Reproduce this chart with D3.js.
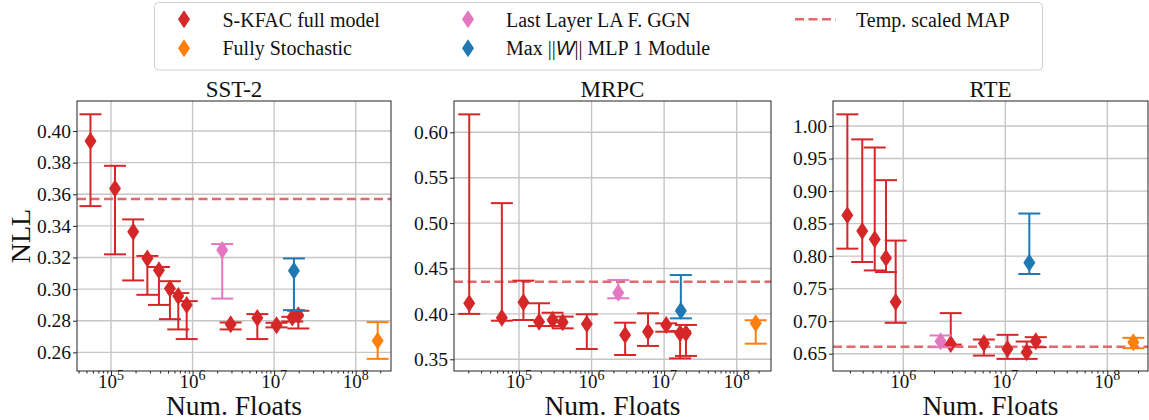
<!DOCTYPE html>
<html>
<head>
<meta charset="utf-8">
<script src="https://cdn.jsdelivr.net/npm/d3@7"></script>
<style>
  body { margin: 0; background: #fff; }
  svg { display: block; }
  svg text { font-family: "Liberation Serif", "DejaVu Serif", serif; }
  svg text tspan.sym { font-family: "Liberation Sans", sans-serif; font-style: italic; }
</style>
</head>
<body>
<div id="main"></div>
<script>
// data: [numFloats, nll, errLow, errHigh]
let titles = ["SST-2", "MRPC", "RTE"]

let sstKfac = [
  [5.6e4, 0.3937, 0.3525, 0.4106], [1.12e5, 0.3637, 0.322, 0.378], [1.87e5, 0.3363, 0.3055, 0.3441],
  [2.79e5, 0.3194, 0.2964, 0.321], [3.87e5, 0.312, 0.290, 0.314], [5.28e5, 0.3004, 0.281, 0.305],
  [6.68e5, 0.2956, 0.2745, 0.2975], [8.47e5, 0.290, 0.2684, 0.2924], [2.93e6, 0.2777, 0.2745, 0.2789],
  [6.22e6, 0.2818, 0.2684, 0.2842], [1.07e7, 0.2772, 0.2758, 0.2787], [1.67e7, 0.282, 0.2795, 0.2825],
  [1.98e7, 0.2835, 0.2751, 0.2863]
]
let sstLastLayer = [[2.31e6, 0.3247, 0.294, 0.3285]]
let sstMaxW = [[1.75e7, 0.3116, 0.2867, 0.3194]]
let sstStoch = [[1.86e8, 0.2673, 0.2559, 0.2791]]

let mrpcKfac = [
  [2.06e4, 0.4117, 0.400, 0.6198], [5.8e4, 0.3958, 0.3925, 0.522], [1.15e5, 0.4128, 0.3933, 0.4366],
  [1.89e5, 0.3914, 0.3867, 0.4117], [2.9e5, 0.3933, 0.3867, 0.4013], [4.0e5, 0.3907, 0.3841, 0.397],
  [8.6e5, 0.3889, 0.3613, 0.3996], [2.9e6, 0.3768, 0.3547, 0.3903], [6.0e6, 0.3804, 0.3647, 0.4007],
  [1.07e7, 0.3878, 0.3804, 0.3896], [1.66e7, 0.3786, 0.351, 0.381], [2.0e7, 0.3786, 0.3537, 0.3878]
]
let mrpcLastLayer = [[2.33e6, 0.4233, 0.4172, 0.4373]]
let mrpcMaxW = [[1.7e7, 0.4035, 0.3951, 0.4428]]
let mrpcStoch = [[1.83e8, 0.3896, 0.3672, 0.393]]

let rteKfac = [
  [2.83e5, 0.8629, 0.8115, 1.018], [3.96e5, 0.8387, 0.791, 0.9795], [5.25e5, 0.8259, 0.778, 0.967],
  [6.77e5, 0.797, 0.7755, 0.9168], [8.42e5, 0.7293, 0.6975, 0.8239], [2.92e6, 0.6651, 0.664, 0.7124],
  [6.17e6, 0.6661, 0.6471, 0.6718], [1.05e7, 0.6574, 0.642, 0.679], [1.62e7, 0.6523, 0.642, 0.6687],
  [1.99e7, 0.6692, 0.660, 0.6754]
]
let rteLastLayer = [[2.32e6, 0.6692, 0.660, 0.678]]
let rteMaxW = [[1.72e7, 0.790, 0.7725, 0.8655]]
let rteStoch = [[1.8e8, 0.6677, 0.6584, 0.6744]]

let tempMap = [0.357, 0.4355, 0.6605]

let yTicks = [
  [0.26, 0.28, 0.30, 0.32, 0.34, 0.36, 0.38, 0.40],
  [0.35, 0.40, 0.45, 0.50, 0.55, 0.60],
  [0.65, 0.70, 0.75, 0.80, 0.85, 0.90, 0.95, 1.00]
]
let xTickExps = [[5, 6, 7, 8], [5, 6, 7, 8], [6, 7, 8]]

let xDomains = [[Math.pow(10, 4.583), Math.pow(10, 8.433)], [Math.pow(10, 4.104), Math.pow(10, 8.473)], [Math.pow(10, 5.311), Math.pow(10, 8.399)]]
let yDomains = [[0.2482, 0.419], [0.3371, 0.6345], [0.6234, 1.0385]]

let legendLabels = ["S-KFAC full model", "Fully Stochastic", "Last Layer LA F. GGN", "Max ||W|| MLP 1 Module", "Temp. scaled MAP"]

let colors = {kfac: "#d62728", stoch: "#ff7f0e", last: "#e377c2", maxw: "#1f77b4", map: "#e26869"}

let panelData = [
  {kfac: sstKfac, last: sstLastLayer, maxw: sstMaxW, stoch: sstStoch},
  {kfac: mrpcKfac, last: mrpcLastLayer, maxw: mrpcMaxW, stoch: mrpcStoch},
  {kfac: rteKfac, last: rteLastLayer, maxw: rteMaxW, stoch: rteStoch}
]

// layout
let W = 1149, H = 420
let panelX = [[77, 391], [454, 771], [833, 1148]]
let panelTop = 101, panelBottom = 371

let svg = d3.select("#main").append("svg")
    .attr("width", W)
    .attr("height", H)

function diamond(w, h) {
  return "M0," + (-h / 2) + "L" + (w / 2) + ",0L0," + (h / 2) + "L" + (-w / 2) + ",0Z"
}

titles.forEach((title, i) => {
  let x = d3.scaleLog().domain(xDomains[i]).range(panelX[i])
  let y = d3.scaleLinear().domain(yDomains[i]).range([panelBottom, panelTop])
  let g = svg.append("g")
  let x0 = panelX[i][0], x1 = panelX[i][1]

  // grid
  g.selectAll(null).data(yTicks[i]).enter().append("line")
      .attr("x1", x0).attr("x2", x1)
      .attr("y1", d => y(d)).attr("y2", d => y(d))
      .attr("stroke", "#c6c6c6").attr("stroke-width", 1.4)
  g.selectAll(null).data(xTickExps[i]).enter().append("line")
      .attr("x1", d => x(Math.pow(10, d))).attr("x2", d => x(Math.pow(10, d)))
      .attr("y1", panelTop).attr("y2", panelBottom)
      .attr("stroke", "#c6c6c6").attr("stroke-width", 1.4)

  // temp scaled MAP
  g.append("line")
      .attr("x1", x0).attr("x2", x1)
      .attr("y1", y(tempMap[i])).attr("y2", y(tempMap[i]))
      .attr("stroke", colors.map).attr("stroke-width", 2.5)
      .attr("stroke-dasharray", "9,4.5")

  // error bars + markers
  let clip = "clip" + i
  svg.append("clipPath").attr("id", clip).append("rect")
      .attr("x", x0).attr("y", panelTop).attr("width", x1 - x0).attr("height", panelBottom - panelTop)
  let pg = g.append("g").attr("clip-path", "url(#" + clip + ")")
  let order = ["kfac", "last", "maxw", "stoch"]
  order.forEach(key => {
    let rows = panelData[i][key]
    let c = colors[key]
    let eg = pg.selectAll(null).data(rows).enter().append("g")
    eg.append("line")
        .attr("x1", d => x(d[0])).attr("x2", d => x(d[0]))
        .attr("y1", d => y(d[2])).attr("y2", d => y(d[3]))
        .attr("stroke", c).attr("stroke-width", 2)
    eg.append("line")
        .attr("x1", d => x(d[0]) - 11).attr("x2", d => x(d[0]) + 11)
        .attr("y1", d => y(d[2])).attr("y2", d => y(d[2]))
        .attr("stroke", c).attr("stroke-width", 2)
    eg.append("line")
        .attr("x1", d => x(d[0]) - 11).attr("x2", d => x(d[0]) + 11)
        .attr("y1", d => y(d[3])).attr("y2", d => y(d[3]))
        .attr("stroke", c).attr("stroke-width", 2)
    eg.append("path")
        .attr("d", diamond(12, 18))
        .attr("transform", d => "translate(" + x(d[0]) + "," + y(d[1]) + ")")
        .attr("fill", c)
  })

  // axes
  let xAxis = d3.axisBottom(x)
      .tickValues(xTickExps[i].map(e => Math.pow(10, e)))
      .tickSize(5).tickFormat("")
  let minor = []
  for (let e = 3; e <= 9; e++) {
    for (let m = 2; m <= 9; m++) {
      let v = m * Math.pow(10, e)
      if (v > xDomains[i][0] && v < xDomains[i][1]) minor.push(v)
    }
  }
  let xMinor = d3.axisBottom(x).tickValues(minor).tickSize(2.5).tickFormat("")
  let gx = g.append("g").attr("transform", "translate(0," + panelBottom + ")").call(xAxis)
  let gm = g.append("g").attr("transform", "translate(0," + panelBottom + ")").call(xMinor)
  ;[gx, gm].forEach(a => {
    a.select(".domain").remove()
    a.selectAll(".tick line").attr("stroke", "#222").attr("stroke-width", 1)
  })
  let lbl = g.selectAll(null).data(xTickExps[i]).enter().append("text")
      .attr("x", d => x(Math.pow(10, d)))
      .attr("y", panelBottom + 17)
      .attr("text-anchor", "middle")
      .attr("font-size", 19)
      .attr("fill", "#111")
  lbl.append("tspan").text("10")
  lbl.append("tspan").attr("dy", -8).attr("font-size", 14).text(d => d)

  let yAxis = d3.axisLeft(y).tickValues(yTicks[i]).tickSize(4).tickPadding(2)
      .tickFormat(d3.format(".2f"))
  let gy = g.append("g").attr("transform", "translate(" + x0 + ",0)").call(yAxis)
  gy.select(".domain").remove()
  gy.selectAll(".tick line").attr("stroke", "#222")
  gy.selectAll(".tick text")
      .attr("font-size", 19.5).attr("fill", "#111")

  // frame
  g.append("rect")
      .attr("x", x0).attr("y", panelTop)
      .attr("width", x1 - x0).attr("height", panelBottom - panelTop)
      .attr("fill", "none").attr("stroke", "#222").attr("stroke-width", 1)

  // title & x label
  g.append("text")
      .attr("x", (x0 + x1) / 2).attr("y", panelTop - 4)
      .attr("text-anchor", "middle").attr("font-size", 23).attr("fill", "#111")
      .text(title)
  g.append("text")
      .attr("x", (x0 + x1) / 2).attr("y", 415)
      .attr("text-anchor", "middle").attr("font-size", 27.5).attr("fill", "#111")
      .text("Num. Floats")
})

svg.append("text")
    .attr("transform", "translate(30," + ((panelTop + panelBottom) / 2) + ") rotate(-90)")
    .attr("text-anchor", "middle").attr("font-size", 28).attr("fill", "#111")
    .text("NLL")

// legend
let legend = svg.append("g")
legend.append("rect")
    .attr("x", 154.5).attr("y", 2.5).attr("width", 888).attr("height", 67.5)
    .attr("rx", 4).attr("fill", "#fff").attr("stroke", "#d0d0d0").attr("stroke-width", 1)

let legendItems = [
  {label: legendLabels[0], color: colors.kfac, mx: 184, tx: 222.5, row: 0},
  {label: legendLabels[1], color: colors.stoch, mx: 184, tx: 222.5, row: 1},
  {label: legendLabels[2], color: colors.last, mx: 468, tx: 506, row: 0},
  {label: legendLabels[3], color: colors.maxw, mx: 468, tx: 506, row: 1}
]
let rowMid = [19.3, 48.3], rowBase = [26.7, 55]
legendItems.forEach(it => {
  legend.append("path")
      .attr("d", diamond(12, 18))
      .attr("transform", "translate(" + it.mx + "," + rowMid[it.row] + ")")
      .attr("fill", it.color)
  let t = legend.append("text")
      .attr("x", it.tx).attr("y", rowBase[it.row])
      .attr("font-size", 20).attr("fill", "#111")
  if (it.label.indexOf("||W||") >= 0) {
    t.append("tspan").text("Max ||")
    t.append("tspan").attr("class", "sym").text("W")
    t.append("tspan").text("|| MLP 1 Module")
  } else {
    t.text(it.label)
  }
})
legend.append("line")
    .attr("x1", 795).attr("x2", 836).attr("y1", rowMid[0]).attr("y2", rowMid[0])
    .attr("stroke", colors.map).attr("stroke-width", 2.5).attr("stroke-dasharray", "9,4.5")
legend.append("text")
    .attr("x", 856).attr("y", rowBase[0])
    .attr("font-size", 20).attr("fill", "#111")
    .text(legendLabels[4])
</script>
</body>
</html>
